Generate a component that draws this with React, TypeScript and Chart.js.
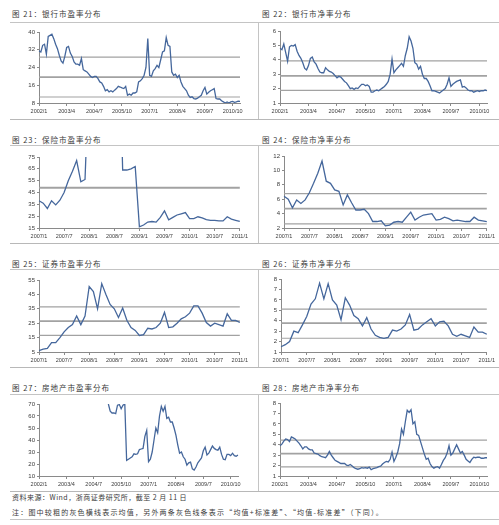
import React, { useEffect, useRef } from 'react';
import { Chart, registerables } from 'chart.js';

Chart.register(...registerables);
Chart.defaults.font.family = "'Liberation Sans', Arial, sans-serif";

function makeMonths(y0: number, m0: number, count: number): string[] {
  const out: string[] = [];
  let y = y0;
  let m = m0;
  for (let i = 0; i < count; i++) {
    out.push(`${y}/${m}`);
    m += 1;
    if (m > 12) { m = 1; y += 1; }
  }
  return out;
}

// ---------- categories ----------
const longMonths = makeMonths(2002, 1, 110); // 2002/1 .. 2011/2
const shortMonths = makeMonths(2007, 1, 49); // 2007/1 .. 2011/1

// ---------- tick labels ----------
const longTicks = ['2002/1', '2003/4', '2004/7', '2005/10', '2007/1', '2008/4', '2009/7', '2010/10'];
const shortTicks = ['2007/1', '2007/7', '2008/1', '2008/7', '2009/1', '2009/7', '2010/1', '2010/7', '2011/1'];

// ---------- series values ----------
const bankPE = [
  31.5, 31, 34, 34.5, 30, 38, 38.5, 39, 37, 34.5,
  32.5, 29.5, 27, 26, 29, 33, 33.5, 30.5, 29, 26.5,
  25.5, 25.5, 25, 28, 23, 22.5, 22, 21, 20, 19.5,
  20, 20, 19, 17.5, 17, 15.5, 13.5, 14, 13, 13.5,
  13, 13.8, 14.5, 15.5, 15.2, 14.8, 14.5, 15.5, 11.5, 12,
  11.5, 12.5, 12.5, 13, 17.5, 18, 19, 20.5, 24, 37,
  20.5, 20, 22.5, 23.5, 25, 24, 27.5, 31, 31.5, 37.5,
  34, 33.5, 22, 20.5, 21, 19.5, 20.5, 17.5, 15.5, 14.5,
  13.5, 11.5, 10.5, 10.8, 10, 9.8, 10.2, 10.8, 11.5, 13.5,
  15, 12, 12.8, 13.5, 14, 14.5, 10, 9.8, 9.8, 9,
  8.5, 8, 8.5, 8, 8.5, 8.7, 8.3, 8.5, 8.8, 8.7,
];

const bankPB = [
  4.8, 4.7, 5.1, 4.5, 3.9, 4.9, 5.0, 4.95, 5.05, 4.6,
  4.3, 4.1, 3.8, 3.4, 3.3, 3.6, 4.1, 4.2, 3.85, 3.7,
  3.4, 3.15, 3.1, 3.1, 3.45, 3.3, 3.2, 3.15, 3.05, 2.9,
  2.75, 2.85, 2.8, 2.65, 2.5, 2.4, 2.2, 2.0, 2.05, 1.95,
  2.05, 2.0, 2.15, 2.3, 2.3, 2.2, 2.25, 2.15, 1.75, 1.75,
  1.85, 1.9, 1.85, 1.95, 2.05, 2.15, 2.3, 2.5, 3.0, 4.05,
  3.1, 3.3, 3.45, 3.6, 3.75, 3.55, 4.3, 4.8, 5.6, 5.3,
  4.8, 3.8, 3.7, 3.35, 3.55, 3.0, 2.7, 2.7, 2.5, 2.2,
  1.85, 1.85, 1.8, 1.75, 1.7, 1.8, 1.9, 2.0, 2.3, 2.75,
  2.15, 2.3, 2.4, 2.5, 2.55, 2.6, 2.1, 2.15, 2.05, 1.9,
  1.85, 1.85, 1.75, 1.8, 1.85, 1.8, 1.85, 1.85, 1.9, 1.85,
];

const insPE: (number | null)[] = [
  38, 36, 31.5, 38, 34.5, 38.5, 45, 55, 63, 72,
  54, 56, 150, null, null, null, null, null, null, 200,
  64, 64, 65, 67, 16, 17.5, 20, 20.5, 20, 24,
  29.5, 22, 24, 26, 27, 28, 23, 23, 24.5, 23.5,
  22, 21.5, 21.5, 21, 21, 24.5, 22.5, 21.5, 20.5,
];

const insPB = [
  6.4, 6.0, 4.8, 5.9, 5.4, 5.9, 6.9, 8.2, 9.6, 11.3,
  8.5, 8.2, 7.3, 7.1, 5.2, 6.6, 5.5, 4.5, 4.5, 4.6,
  4.0, 2.9, 2.9, 3.0, 2.3, 2.4, 2.8, 2.9, 2.8, 3.5,
  4.2, 3.1, 3.5, 3.8, 3.9, 4.0, 3.1, 3.2, 3.5, 3.3,
  3.0, 3.1, 3.0, 2.9, 2.9, 3.5, 3.1, 3.0, 2.9,
];

const secPE = [
  6, 7, 7.5, 11.5, 11.5, 15, 19, 22, 24, 30,
  24, 30, 50.5, 47, 35, 52.5, 45, 38, 35, 29,
  35.5, 27, 22, 20, 16.5, 17, 21.5, 21, 22, 25,
  32.5, 22, 22.5, 25, 28, 29.5, 32, 37, 37, 32,
  25.5, 23, 25, 24, 23, 31.5, 27, 27, 25.5,
];

const secPB = [
  1.5, 1.7, 2.0, 3.0, 2.85, 3.6, 4.4, 5.6, 6.1, 7.6,
  6.1, 7.55, 6.0, 5.5, 4.1, 6.2, 5.5, 4.5, 4.2, 3.5,
  4.3, 3.2, 2.6, 2.4, 2.3, 2.4, 3.1, 3.0, 3.2, 3.6,
  4.6, 3.1, 3.2, 3.6, 3.9, 4.2, 3.5, 3.9, 3.95, 3.5,
  2.7, 2.5, 2.7, 2.55, 2.4, 3.4, 2.9, 2.9, 2.7,
];

const realPE: (number | null)[] = [
  null, null, null, null, null, null, null, null, null, null,
  null, null, null, null, null, null, null, null, null, null,
  null, null, null, null, null, null, null, null, null, null,
  null, null, null, null, null, null, null, null, 70, 64,
  62.5, 62.5, 62, 69, 69.5, 66, 69, 70, 23, 24,
  25, 26, 28.5, 28, 28.5, 32, 32.5, 33, 43, 48,
  22, 24, 30, 40, 50, 46, 60, 68, 64, 68,
  58, 59, 55, 55, 50, 44, 36, 29, 30, 26,
  24, 19, 21, 21.5, 16, 15, 17.5, 21, 23, 25,
  31, 34, 27.5, 29, 32, 35, 33, 32, 31.5, 34,
  28, 24, 23.5, 28, 28, 27, 29, 27, 26.5, 27.5,
];

const realPB = [
  3.9, 4.05, 4.35, 4.55, 4.5, 4.3, 4.75, 4.65, 4.55, 4.35,
  4.15, 3.9, 3.6, 3.8, 3.8, 3.6, 3.5, 3.5, 3.2, 3.15,
  3.1, 2.95, 2.85, 2.8, 2.75, 3.0, 3.35, 3.0, 2.75, 2.5,
  2.4, 2.3, 2.2, 2.2, 2.2, 2.05, 2.0, 2.1, 1.95, 1.8,
  1.7, 1.65, 1.7, 1.8, 1.75, 1.8, 1.75, 1.85, 1.6, 1.7,
  1.75, 1.8, 1.9, 1.95, 2.15, 2.3, 2.4, 2.35, 2.6, 3.3,
  2.4, 2.8, 3.3, 4.1, 5.5, 5.0, 6.2, 7.3, 7.1, 7.35,
  6.0, 6.2, 5.0, 4.9, 4.3, 3.7, 3.1, 2.6, 2.7, 2.2,
  1.9, 1.75, 1.85, 1.9, 1.75, 2.1, 2.5, 2.75, 3.2, 3.9,
  3.0, 3.2, 3.6, 4.0, 3.6, 3.2, 3.35, 3.0, 2.6, 2.45,
  2.3, 2.6, 2.8, 2.75, 2.8, 2.8, 2.7, 2.7, 2.75, 2.75,
];

// ---------- reference lines: [mean+sd, mean, mean-sd] ----------
const bankPEBands: (number | null)[] = [28.7, 19.7, 10.7];
const bankPBBands: (number | null)[] = [3.93, 2.88, 1.88];
const insPEBands: (number | null)[] = [null, 49, null];
const insPBBands: (number | null)[] = [6.77, 4.69, 2.58];
const secPEBands: (number | null)[] = [36.4, 26.5, 16.5];
const secPBBands: (number | null)[] = [5.12, 3.77, 2.32];
const realPEBands: (number | null)[] = [];
const realPBBands: (number | null)[] = [4.44, 3.15, 1.87];

// ---------- layout ----------
const Y_AXIS_W = 30;
const X_AXIS_H = 16;
const PAD_T = 6;
const PAD_R = 10;
const LINE_COLOR = '#45679c';
const BAND_COLOR = '#a2a2a2';
const AXIS_COLOR = '#8a8a8a';
const TEXT_COLOR = '#3a3a3a';
const TICK_FONT_SIZE = 5.5;

type PanelSpec = {
  title: string;
  labels: string[];
  ticks: string[];
  values: (number | null)[];
  bands: (number | null)[];
  yMin: number;
  yMax: number;
  yStep: number;
  box: [number, number, number, number]; // plot left, top, right, bottom
};

const panels: PanelSpec[] = [
  { title: '图 21：银行市盈率分布', labels: longMonths, ticks: longTicks, values: bankPE, bands: bankPEBands, yMin: 8, yMax: 40, yStep: 8, box: [39, 32, 240, 103] },
  { title: '图 22：银行市净率分布', labels: longMonths, ticks: longTicks, values: bankPB, bands: bankPBBands, yMin: 1, yMax: 6, yStep: 1, box: [280, 31, 487, 103] },
  { title: '图 23：保险市盈率分布', labels: shortMonths, ticks: shortTicks, values: insPE, bands: insPEBands, yMin: 15, yMax: 75, yStep: 10, box: [39, 157, 240, 228] },
  { title: '图 24：保险市净率分布', labels: shortMonths, ticks: shortTicks, values: insPB, bands: insPBBands, yMin: 2, yMax: 12, yStep: 2, box: [284, 156, 487, 228] },
  { title: '图 25：证券市盈率分布', labels: shortMonths, ticks: shortTicks, values: secPE, bands: secPEBands, yMin: 5, yMax: 55, yStep: 10, box: [39, 280, 240, 352] },
  { title: '图 26：证券市净率分布', labels: shortMonths, ticks: shortTicks, values: secPB, bands: secPBBands, yMin: 1, yMax: 8, yStep: 1, box: [281, 279, 487, 352] },
  { title: '图 27：房地产市盈率分布', labels: longMonths, ticks: longTicks, values: realPE, bands: realPEBands, yMin: 10, yMax: 70, yStep: 10, box: [39, 404, 238, 476] },
  { title: '图 28：房地产市净率分布', labels: longMonths, ticks: longTicks, values: realPB, bands: realPBBands, yMin: 1, yMax: 8, yStep: 1, box: [280, 403, 487, 476] },
];

const rowTitleY = [14, 140, 264, 388];
const rowTopLine = [22, 145, 269, 394];
const rowBottomLine = [119, 243, 367, 491];
const COL_X = [12, 262];
const DIVIDER_X = 258;

function Panel({ spec }: { spec: PanelSpec }) {
  const ref = useRef<HTMLCanvasElement>(null);
  const [L, T, R, B] = spec.box;
  const w = R - L + Y_AXIS_W + PAD_R;
  const h = B - T + PAD_T + X_AXIS_H;

  useEffect(() => {
    if (!ref.current) return;
    const tickSet = new Set(spec.ticks);
    const bandSets: any[] = [];
    spec.bands.forEach((v, i) => {
      if (v == null) return;
      bandSets.push({
        data: spec.labels.map(() => v),
        borderColor: BAND_COLOR,
        borderWidth: i === 1 ? 1.8 : 1.2,
        pointRadius: 0,
        order: 2,
      });
    });
    const chart = new Chart(ref.current, {
      type: 'line',
      data: {
        labels: spec.labels,
        datasets: [
          ...bandSets,
          {
            data: spec.values,
            borderColor: LINE_COLOR,
            borderWidth: 1.3,
            pointRadius: 0,
            tension: 0,
            spanGaps: false,
            order: 1,
          },
        ],
      },
      options: {
        animation: false,
        responsive: false,
        devicePixelRatio: 1,
        layout: { padding: { left: 0, top: PAD_T, right: PAD_R, bottom: 0 } },
        plugins: { legend: { display: false }, tooltip: { enabled: false } },
        scales: {
          x: {
            type: 'category',
            grid: { drawOnChartArea: false, drawTicks: true, tickLength: 3, color: AXIS_COLOR },
            border: { display: true, color: AXIS_COLOR, width: 1 },
            ticks: {
              autoSkip: false,
              maxRotation: 0,
              minRotation: 0,
              padding: 2,
              color: TEXT_COLOR,
              font: { size: TICK_FONT_SIZE },
            },
            afterBuildTicks: (axis: any) => {
              axis.ticks = axis.ticks.filter((t: any) => tickSet.has(spec.labels[t.value]));
            },
            afterFit: (axis: any) => { axis.height = X_AXIS_H; },
          },
          y: {
            min: spec.yMin,
            max: spec.yMax,
            grid: { drawOnChartArea: false, drawTicks: true, tickLength: 2, color: AXIS_COLOR },
            border: { display: true, color: AXIS_COLOR, width: 1 },
            ticks: {
              stepSize: spec.yStep,
              padding: 2,
              color: TEXT_COLOR,
              font: { size: TICK_FONT_SIZE + 0.5 },
            },
            afterFit: (axis: any) => { axis.width = Y_AXIS_W; },
          },
        },
      } as any,
    });
    return () => chart.destroy();
  }, []);

  return (
    <canvas
      ref={ref}
      width={w}
      height={h}
      style={{ position: 'absolute', left: L - Y_AXIS_W, top: T - PAD_T, width: w, height: h }}
    />
  );
}

const cjkFont = "'Noto Sans CJK SC', 'Noto Sans', sans-serif";

export default function App() {
  return (
    <div style={{ position: 'absolute', left: 0, top: 0, width: 499, height: 525, background: '#fff', overflow: 'hidden' }}>
      {panels.map((p, i) => {
        const row = Math.floor(i / 2);
        const col = i % 2;
        return (
          <div
            key={'t' + i}
            style={{
              position: 'absolute',
              left: COL_X[col],
              top: rowTitleY[row] - 5,
              height: 10,
              lineHeight: '10px',
              fontFamily: cjkFont,
              fontSize: 7.5,
              letterSpacing: 1,
              color: TEXT_COLOR,
              whiteSpace: 'nowrap',
            }}
          >
            {p.title}
          </div>
        );
      })}
      {rowTopLine.map((y, r) => (
        <React.Fragment key={'r' + r}>
          <div style={{ position: 'absolute', left: 10, top: y, width: 489, height: 1, background: '#c4c4c4' }} />
          <div style={{ position: 'absolute', left: 10, top: rowBottomLine[r], width: 489, height: 1, background: '#b8b8b8' }} />
          <div style={{ position: 'absolute', left: DIVIDER_X, top: y, width: 1, height: rowBottomLine[r] - y, background: '#c4c4c4' }} />
        </React.Fragment>
      ))}
      {panels.map((p, i) => (
        <Panel key={'p' + i} spec={p} />
      ))}
      <div style={{ position: 'absolute', left: 12, top: 492, height: 10, lineHeight: '10px', fontFamily: cjkFont, fontSize: 7, letterSpacing: 0.5, color: TEXT_COLOR, whiteSpace: 'nowrap' }}>
        资料来源：Wind，浙商证券研究所，截至 2 月 11 日
      </div>
      <div style={{ position: 'absolute', left: 12, top: 507, height: 10, lineHeight: '10px', fontFamily: cjkFont, fontSize: 7, letterSpacing: 1.2, color: TEXT_COLOR, whiteSpace: 'nowrap' }}>
        注：图中较粗的灰色横线表示均值，另外两条灰色线条表示“均值+标准差”、“均值-标准差”（下同）。
      </div>
      <div style={{ position: 'absolute', left: 10, top: 519, width: 489, height: 1, background: '#c4c4c4' }} />
    </div>
  );
}
